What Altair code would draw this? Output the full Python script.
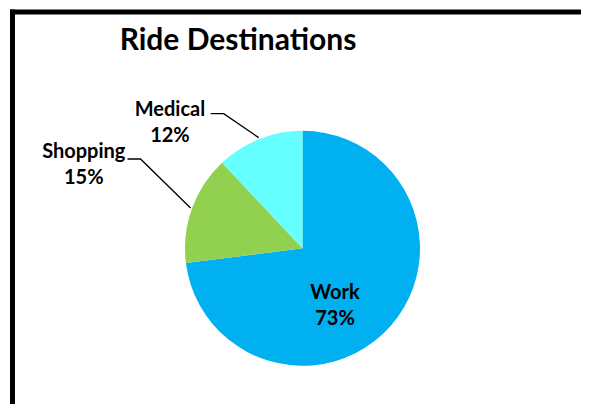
import math
import altair as alt
import pandas as pd

# ---- data ----
categories = ["Work", "Shopping", "Medical"]
values = [73, 15, 12]
colors = ["#00B0F0", "#92D050", "#66FFFF"]
title_text = "Ride Destinations"

# ---- layout (pixels inside the svg) ----
W, H = 573, 396
CX, CY, R = 294.5, 240.3, 117.5
FONT = "Lato"
total = sum(values)

df = pd.DataFrame({
    "category": categories,
    "value": values,
    "order": list(range(len(categories))),
    "label": [f"{c}\n{v}%" for c, v in zip(categories, values)],
})

theta_scale = alt.Scale(domain=[0, total], range=[0, 2 * math.pi])

pie = alt.Chart(df).mark_arc(outerRadius=R, stroke=None).encode(
    theta=alt.Theta("value:Q", stack=True, scale=theta_scale),
    order=alt.Order("order:Q", sort="ascending"),
    color=alt.Color("category:N", scale=alt.Scale(domain=categories, range=colors), legend=None),
    x=alt.value(CX),
    y=alt.value(CY),
)

label_base = alt.Chart(df).transform_window(
    cum="sum(value)", sort=[alt.SortField("order")], frame=[None, 0]
).transform_calculate(mid="datum.cum - datum.value / 2")

# label placement: (radius, dx, dy) per category
placement = {
    "Work": (60, -12.5, 11),
    "Medical": (140, -81, -2),
    "Shopping": (140, -87, -43),
}

label_layers = []
for c in categories:
    r, dx, dy = placement[c]
    label_layers.append(
        label_base.transform_filter(alt.datum.category == c).mark_text(
            radius=r, dx=dx, dy=dy, font=FONT, fontSize=20, fontWeight="bold",
            color="black", align="center", baseline="alphabetic",
            lineBreak="\n", lineHeight=26,
        ).encode(
            theta=alt.Theta("mid:Q", scale=theta_scale),
            text="label:N",
            x=alt.value(CX),
            y=alt.value(CY),
        )
    )

# leader lines from slice mid-angle on the rim to the outside labels
elbows = {"Medical": (-35, -24), "Shopping": (-50, -49)}
rows = []
cum = 0
for c, v in zip(categories, values):
    mid = (cum + v / 2) / total * 2 * math.pi
    cum += v
    if c not in elbows:
        continue
    ex, ey = CX + 119 * math.sin(mid), CY - 119 * math.cos(mid)
    bx, by = ex + elbows[c][0], ey + elbows[c][1]
    rows += [
        {"category": c, "i": 0, "px": ex, "py": ey},
        {"category": c, "i": 1, "px": bx, "py": by},
        {"category": c, "i": 2, "px": bx - 13, "py": by},
    ]
leaders = alt.Chart(pd.DataFrame(rows)).mark_line(color="black", strokeWidth=1.3).encode(
    x=alt.X("px:Q", scale=None, axis=None),
    y=alt.Y("py:Q", scale=None, axis=None),
    detail="category:N",
    order="i:Q",
)

dummy = pd.DataFrame({"a": [0]})
title = alt.Chart(dummy).mark_text(
    text=title_text, font=FONT, fontSize=30, fontWeight="bold", color="black",
    align="center", baseline="alphabetic",
).encode(x=alt.value(230), y=alt.value(42))

# chart frame (runs to the right and bottom edges, as in the reference)
frame_top = alt.Chart(dummy).mark_rule(color="black", strokeWidth=5, strokeCap="butt").encode(
    x=alt.value(2), x2=alt.value(W), y=alt.value(4)
)
frame_left = alt.Chart(dummy).mark_rule(color="black", strokeWidth=5, strokeCap="butt").encode(
    x=alt.value(4.5), y=alt.value(1.5), y2=alt.value(H)
)

chart = alt.layer(pie, leaders, *label_layers, title, frame_top, frame_left).properties(
    width=W, height=H, autosize=alt.AutoSizeParams(type="none"), padding=0,
    background="white",
).configure_view(stroke=None)

chart.save("out.html", embed_options={"renderer": "svg", "actions": False})
